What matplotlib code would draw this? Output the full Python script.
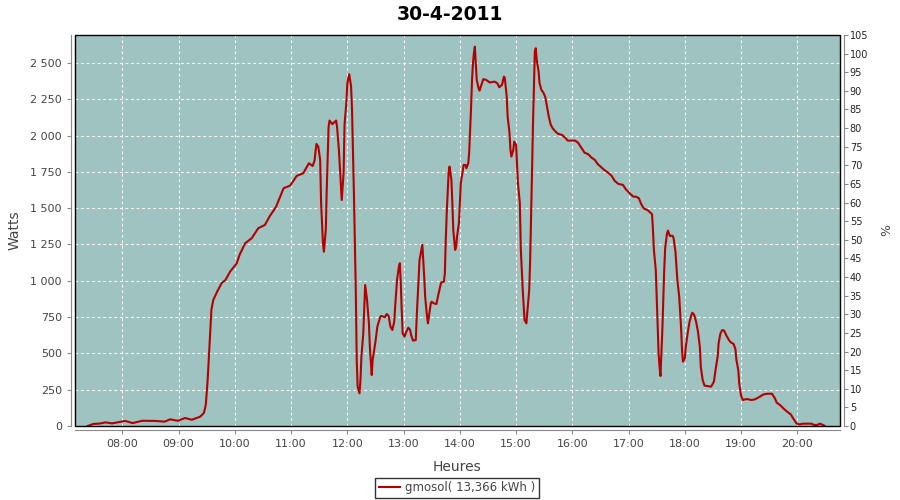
"""
Production solaire du 30-4-2011 (gmosol) -- puissance instantanée en Watts.
"""

import matplotlib
matplotlib.use("Agg")
import matplotlib.dates as mdates
import matplotlib.pyplot as plt
import pandas as pd
from matplotlib.patches import Rectangle
from matplotlib.ticker import FuncFormatter

# ---------------------------------------------------------------------------
# Données
# ---------------------------------------------------------------------------

day = "2011-04-30"
title = "30-4-2011"
series_label = "gmosol( 13,366 kWh )"

heures = [
    "07:23", "07:29", "07:36", "07:42", "07:49", "08:03", "08:11", "08:21", "08:35", "08:45",
    "08:51", "08:59", "09:07", "09:14", "09:23", "09:27", "09:29", "09:31", "09:33", "09:35",
    "09:37", "09:41", "09:46", "09:50", "09:55", "10:02", "10:05", "10:11", "10:18", "10:25",
    "10:32", "10:37", "10:44", "10:52", "10:59", "11:06", "11:13", "11:19", "11:23", "11:25",
    "11:27", "11:29", "11:31", "11:32", "11:34", "11:35", "11:37", "11:38", "11:39", "11:40",
    "11:41", "11:44", "11:48", "11:49", "11:51", "11:53", "11:54", "11:56", "11:57", "11:59",
    "12:00", "12:02", "12:04", "12:05", "12:06", "12:07", "12:08", "12:09", "12:10", "12:11",
    "12:13", "12:14", "12:15", "12:17", "12:18", "12:19", "12:21", "12:23", "12:24", "12:26",
    "12:27", "12:30", "12:32", "12:35", "12:36", "12:40", "12:42", "12:44", "12:46", "12:48",
    "12:50", "12:51", "12:53", "12:55", "12:56", "12:57", "12:58", "12:59", "13:01", "13:03",
    "13:05", "13:07", "13:08", "13:10", "13:13", "13:14", "13:16", "13:17", "13:19", "13:20",
    "13:21", "13:22", "13:23", "13:25", "13:26", "13:27", "13:29", "13:30", "13:32", "13:35",
    "13:37", "13:39", "13:40", "13:43", "13:44", "13:45", "13:46", "13:47", "13:48", "13:49",
    "13:50", "13:51", "13:52", "13:53", "13:55", "13:56", "13:57", "13:59", "14:00", "14:01",
    "14:03", "14:04", "14:06", "14:07", "14:09", "14:10", "14:11", "14:12", "14:13", "14:14",
    "14:15", "14:16", "14:17", "14:18", "14:20", "14:21", "14:23", "14:25", "14:28", "14:32",
    "14:37", "14:40", "14:42", "14:45", "14:47", "14:48", "14:50", "14:51", "14:53", "14:54",
    "14:55", "14:57", "14:58", "15:00", "15:01", "15:02", "15:04", "15:05", "15:06", "15:07",
    "15:08", "15:09", "15:11", "15:12", "15:14", "15:15", "15:16", "15:17", "15:18", "15:19",
    "15:20", "15:21", "15:22", "15:24", "15:25", "15:27", "15:29", "15:31", "15:33", "15:35",
    "15:37", "15:39", "15:42", "15:45", "15:49", "15:53", "15:55", "16:03", "16:06", "16:10",
    "16:13", "16:17", "16:20", "16:24", "16:27", "16:31", "16:34", "16:38", "16:42", "16:45",
    "16:49", "16:54", "16:57", "17:01", "17:05", "17:08", "17:11", "17:13", "17:16", "17:21",
    "17:22", "17:25", "17:26", "17:27", "17:29", "17:30", "17:31", "17:32", "17:33", "17:34",
    "17:35", "17:36", "17:37", "17:38", "17:39", "17:41", "17:42", "17:44", "17:47", "17:48",
    "17:50", "17:51", "17:52", "17:54", "17:55", "17:56", "17:57", "17:58", "18:00", "18:01",
    "18:03", "18:05", "18:07", "18:08", "18:10", "18:12", "18:14", "18:16", "18:17", "18:19",
    "18:21", "18:24", "18:28", "18:31", "18:33", "18:35", "18:36", "18:38", "18:40", "18:42",
    "18:44", "18:47", "18:49", "18:52", "18:54", "18:55", "18:57", "18:58", "19:00", "19:02",
    "19:06", "19:11", "19:15", "19:20", "19:24", "19:28", "19:33", "19:36", "19:38", "19:42",
    "19:45", "19:49", "19:53", "19:56", "19:59", "20:02", "20:06", "20:15", "20:18", "20:21",
    "20:24", "20:26", "20:29",
]

watts = [
    0, 14, 17, 25, 18, 35, 20, 36, 35, 30,
    46, 36, 55, 43, 64, 90, 145, 317, 558, 800,
    868, 923, 985, 1005, 1063, 1120, 1178, 1258, 1293, 1362,
    1384, 1442, 1510, 1637, 1655, 1722, 1740, 1809, 1790, 1827,
    1942, 1924, 1832, 1534, 1258, 1200, 1350, 1625, 1855, 2061,
    2103, 2078, 2103, 2061, 1901, 1671, 1556, 1740, 2073, 2233,
    2360, 2422, 2337, 2176, 1901, 1603, 1258, 937, 455, 271,
    225, 317, 477, 638, 799, 971, 868, 707, 546, 351,
    455, 581, 684, 749, 758, 749, 771, 758, 684, 661,
    718, 822, 1005, 1097, 1120, 983, 799, 638, 615, 650,
    677, 661, 627, 588, 592, 753, 1005, 1143, 1212, 1247,
    1143, 1028, 890, 753, 707, 753, 845, 856, 845, 840,
    902, 960, 987, 994, 1051, 1281, 1465, 1603, 1740, 1786,
    1740, 1694, 1534, 1350, 1212, 1235, 1304, 1396, 1534, 1671,
    1751, 1797, 1797, 1775, 1809, 1889, 2039, 2199, 2383, 2498,
    2567, 2612, 2498, 2383, 2326, 2309, 2349, 2388, 2383, 2365,
    2371, 2360, 2332, 2349, 2406, 2394, 2268, 2130, 2016, 1901,
    1855, 1901, 1958, 1935, 1809, 1671, 1534, 1224, 1086, 948,
    833, 730, 707, 787, 937, 1143, 1430, 1751, 2073, 2337,
    2578, 2601, 2521, 2440, 2360, 2314, 2296, 2268, 2199, 2126,
    2073, 2050, 2027, 2011, 2004, 1981, 1965, 1965, 1951, 1912,
    1882, 1871, 1850, 1832, 1804, 1781, 1763, 1745, 1722, 1689,
    1667, 1660, 1630, 1603, 1579, 1579, 1568, 1534, 1499, 1483,
    1476, 1458, 1350, 1212, 1074, 879, 684, 501, 408, 344,
    501, 661, 868, 1074, 1224, 1327, 1345, 1309, 1309, 1293,
    1200, 1097, 1005, 890, 776, 673, 523, 443, 466, 546,
    638, 718, 764, 780, 764, 718, 650, 546, 408, 317,
    278, 275, 271, 305, 397, 477, 569, 638, 661, 656,
    627, 592, 576, 565, 528, 455, 386, 294, 207, 179,
    186, 179, 184, 202, 218, 222, 222, 191, 161, 142,
    122, 99, 80, 48, 18, 11, 16, 16, 7, 7,
    16, 11, 2,
]

watts_ticks = [0, 250, 500, 750, 1000, 1250, 1500, 1750, 2000, 2250, 2500]
pct_ticks = list(range(0, 110, 5))

# ---------------------------------------------------------------------------
# Style
# ---------------------------------------------------------------------------

BG = "#9ec3c1"
RED = "#b40000"
AXIS_GREY = "#888888"
TEXT_GREY = "#444444"

plt.rcParams["font.family"] = ["DejaVu Sans"]

t = pd.to_datetime([f"{day} {h}" for h in heures])

fig = plt.figure(figsize=(9, 5), dpi=100)
ax = fig.add_axes([75 / 900, 1 - 426 / 500, 765 / 900, 391 / 500])
ax.set_facecolor(BG)

ax.plot(t, watts, color=RED, lw=1.5, label=series_label, zorder=3)

ax.set_xlim(pd.Timestamp(f"{day} 07:09:30"), pd.Timestamp(f"{day} 20:45:30"))
ax.set_ylim(0, 2692)
ax.set_yticks(watts_ticks)
ax.yaxis.set_major_formatter(FuncFormatter(lambda v, _: f"{int(v):,}".replace(",", " ")))
ax.xaxis.set_major_locator(mdates.HourLocator())
ax.xaxis.set_major_formatter(mdates.DateFormatter("%H:%M"))

ax.grid(True, color="white", lw=0.8, ls=(0, (2.5, 2.5)))
ax.set_axisbelow(True)

for side in ("top", "right"):
    ax.spines[side].set_visible(False)
for side in ("left", "bottom"):
    ax.spines[side].set_position(("outward", 3))
    ax.spines[side].set_color(AXIS_GREY)
ax.tick_params(colors=AXIS_GREY, labelcolor=TEXT_GREY, labelsize=8, length=3)

ax.set_ylabel("Watts", fontsize=10, color=TEXT_GREY)
ax.yaxis.set_label_coords(-53 / 765, 0.5)
ax.set_xlabel("Heures", fontsize=10, color=TEXT_GREY)
ax.xaxis.set_label_coords(0.5, -34 / 391)

# axe secondaire en %
ax2 = ax.twinx()
ax2.set_ylim(0, 105)
ax2.set_yticks(pct_ticks)
for side in ("top", "left", "bottom"):
    ax2.spines[side].set_visible(False)
ax2.spines["right"].set_position(("outward", 3))
ax2.spines["right"].set_color(AXIS_GREY)
ax2.tick_params(colors=AXIS_GREY, labelcolor="#222222", labelsize=7, length=3, pad=1)
ax2.set_ylabel("%", fontsize=9, color=TEXT_GREY)
ax2.yaxis.set_label_coords(1 + 40 / 765, 0.5)

# cadre noir autour de la zone de tracé
ax2.add_patch(Rectangle((0, 0), 1, 1, transform=ax2.transAxes, fill=False,
                        ec="black", lw=1, clip_on=False, zorder=10))

fig.text(0.5, 1 - 14 / 500, title, ha="center", va="center",
         fontsize=13.5, fontweight="bold", color="black")

leg = fig.legend(loc="center", bbox_to_anchor=(457 / 900, 1 - 488 / 500),
                 fontsize=8.5, frameon=True, fancybox=False, handlelength=1.8,
                 handletextpad=0.4, borderpad=0.3, borderaxespad=0)
leg.get_frame().set_edgecolor("black")
leg.get_frame().set_linewidth(1)
for txt in leg.get_texts():
    txt.set_color(TEXT_GREY)

fig.savefig("out.png", dpi=100)
